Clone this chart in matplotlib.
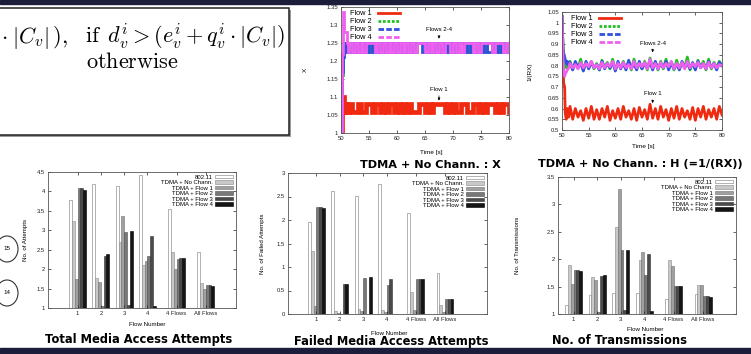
import numpy as np
import matplotlib
matplotlib.use("Agg")
import matplotlib.pyplot as plt
from matplotlib.lines import Line2D
from matplotlib.patches import Rectangle, Ellipse
from matplotlib.ticker import FuncFormatter

plt.rcParams['font.family'] = ['Liberation Sans', 'DejaVu Sans']
plt.rcParams['mathtext.fontset'] = 'cm'

# ---------------- data: time series ----------------
t_early_x = [50.0, 50.1, 50.2, 50.3, 50.4, 50.5, 50.7, 50.9, 51.1, 51.3]
t_early_h = [50.0, 50.1, 50.2, 50.3, 50.4, 50.5, 50.6, 50.8, 51.0, 51.25]
t_regular = np.arange(51.5, 80.01, 0.5)

x_flow1 = [1.00, 1.03, 1.07, 1.10, 1.10, 1.08, 1.057, 1.08, 1.057, 1.057,
           1.08, 1.057, 1.057, 1.08, 1.057, 1.057, 1.08, 1.08, 1.057, 1.08,
           1.08, 1.057, 1.08, 1.057, 1.08, 1.08, 1.057, 1.08, 1.057, 1.08,
           1.057, 1.08, 1.057, 1.057, 1.057, 1.08, 1.08, 1.057, 1.08, 1.057,
           1.08, 1.08, 1.08, 1.08, 1.057, 1.08, 1.057, 1.08, 1.057, 1.057,
           1.08, 1.08, 1.057, 1.057, 1.08, 1.08, 1.057, 1.08, 1.057, 1.08,
           1.08, 1.08, 1.057, 1.08, 1.057, 1.08, 1.08, 1.057]
x_flow2 = [1.00, 1.08, 1.16, 1.20, 1.22, 1.24, 1.25, 1.225, 1.25, 1.225,
           1.25, 1.225, 1.25, 1.225, 1.25, 1.225, 1.25, 1.225, 1.25, 1.225,
           1.25, 1.225, 1.25, 1.225, 1.25, 1.225, 1.25, 1.225, 1.25, 1.225,
           1.25, 1.225, 1.25, 1.225, 1.25, 1.25, 1.25, 1.225, 1.25, 1.225,
           1.25, 1.225, 1.25, 1.225, 1.25, 1.225, 1.25, 1.225, 1.25, 1.225,
           1.225, 1.25, 1.225, 1.25, 1.225, 1.25, 1.225, 1.25, 1.225, 1.25,
           1.25, 1.225, 1.25, 1.225, 1.25, 1.225, 1.25, 1.225]
x_flow3 = [1.00, 1.10, 1.17, 1.17, 1.21, 1.24, 1.25, 1.225, 1.25, 1.225,
           1.225, 1.25, 1.225, 1.25, 1.225, 1.25, 1.225, 1.25, 1.225, 1.25,
           1.225, 1.25, 1.225, 1.25, 1.225, 1.25, 1.225, 1.25, 1.225, 1.25,
           1.225, 1.25, 1.225, 1.25, 1.25, 1.25, 1.225, 1.25, 1.225, 1.25,
           1.225, 1.25, 1.225, 1.25, 1.225, 1.25, 1.225, 1.25, 1.225, 1.25,
           1.25, 1.225, 1.25, 1.225, 1.25, 1.225, 1.25, 1.225, 1.25, 1.225,
           1.225, 1.25, 1.225, 1.25, 1.225, 1.25, 1.225, 1.25]
x_flow4 = [1.00, 1.12, 1.22, 1.30, 1.335, 1.28, 1.28, 1.28, 1.25, 1.225,
           1.25, 1.225, 1.25, 1.225, 1.25, 1.225, 1.25, 1.25, 1.25, 1.225,
           1.25, 1.225, 1.25, 1.225, 1.25, 1.225, 1.25, 1.225, 1.25, 1.225,
           1.25, 1.225, 1.25, 1.225, 1.25, 1.25, 1.25, 1.225, 1.25, 1.225,
           1.25, 1.225, 1.25, 1.225, 1.25, 1.25, 1.225, 1.25, 1.225, 1.25,
           1.225, 1.25, 1.25, 1.25, 1.225, 1.25, 1.225, 1.25, 1.25, 1.25,
           1.25, 1.225, 1.25, 1.25, 1.25, 1.225, 1.25, 1.225]

h_flow1 = [1.03, 0.95, 0.85, 0.72, 0.71, 0.70, 0.58, 0.55, 0.60, 0.56,
           0.61, 0.55, 0.60, 0.56, 0.59, 0.545, 0.60, 0.555, 0.61, 0.55,
           0.595, 0.55, 0.60, 0.56, 0.61, 0.545, 0.59, 0.555, 0.60, 0.55,
           0.61, 0.56, 0.59, 0.55, 0.60, 0.545, 0.605, 0.56, 0.595, 0.55,
           0.62, 0.555, 0.60, 0.55, 0.61, 0.56, 0.595, 0.545, 0.60, 0.555,
           0.61, 0.55, 0.60, 0.56, 0.59, 0.55, 0.605, 0.545, 0.60, 0.56,
           0.61, 0.55, 0.595, 0.56, 0.60, 0.55, 0.61, 0.57]
h_flow2 = [1.03, 0.95, 0.87, 0.84, 0.82, 0.80, 0.81, 0.79, 0.80, 0.81,
           0.82, 0.785, 0.81, 0.79, 0.83, 0.78, 0.815, 0.79, 0.82, 0.785,
           0.81, 0.78, 0.825, 0.79, 0.815, 0.785, 0.83, 0.78, 0.81, 0.79,
           0.82, 0.785, 0.815, 0.78, 0.83, 0.79, 0.81, 0.785, 0.82, 0.78,
           0.835, 0.79, 0.815, 0.78, 0.82, 0.785, 0.83, 0.79, 0.81, 0.78,
           0.825, 0.785, 0.815, 0.79, 0.84, 0.78, 0.81, 0.785, 0.825, 0.79,
           0.82, 0.78, 0.83, 0.785, 0.815, 0.79, 0.82, 0.80]
h_flow3 = [1.03, 0.96, 0.88, 0.86, 0.85, 0.84, 0.83, 0.81, 0.82, 0.80,
           0.815, 0.78, 0.82, 0.79, 0.81, 0.775, 0.82, 0.785, 0.815, 0.79,
           0.805, 0.78, 0.82, 0.785, 0.81, 0.79, 0.815, 0.775, 0.82, 0.785,
           0.81, 0.78, 0.825, 0.79, 0.805, 0.78, 0.82, 0.785, 0.81, 0.79,
           0.815, 0.78, 0.82, 0.785, 0.81, 0.79, 0.82, 0.78, 0.815, 0.785,
           0.805, 0.78, 0.82, 0.79, 0.81, 0.785, 0.815, 0.78, 0.82, 0.79,
           0.81, 0.785, 0.82, 0.79, 0.81, 0.78, 0.815, 0.80]
h_flow4 = [1.03, 0.93, 0.82, 0.78, 0.76, 0.75, 0.76, 0.77, 0.78, 0.79,
           0.81, 0.79, 0.805, 0.785, 0.815, 0.79, 0.81, 0.795, 0.82, 0.79,
           0.805, 0.785, 0.815, 0.79, 0.81, 0.795, 0.82, 0.785, 0.81, 0.79,
           0.815, 0.79, 0.805, 0.785, 0.82, 0.79, 0.81, 0.795, 0.815, 0.785,
           0.83, 0.79, 0.81, 0.785, 0.815, 0.79, 0.81, 0.795, 0.82, 0.785,
           0.81, 0.79, 0.815, 0.785, 0.82, 0.79, 0.81, 0.795, 0.815, 0.79,
           0.81, 0.785, 0.815, 0.79, 0.81, 0.79, 0.805, 0.80]

flow_labels = ["Flow 1", "Flow 2", "Flow 3", "Flow 4"]

# ---------------- data: bar charts ----------------
categories = ["1", "2", "3", "4", "4 Flows", "All Flows"]
series_names = ["802.11", "TDMA + No Chann.", "TDMA + Flow 1",
                "TDMA + Flow 2", "TDMA + Flow 3", "TDMA + Flow 4"]

attempts_80211 = [3.77, 4.20, 4.15, 4.43, 3.55, 2.43]
attempts_nochan = [3.23, 1.76, 2.71, 2.10, 2.45, 1.65]
attempts_f1 = [1.75, 1.66, 3.36, 2.20, 2.00, 1.50]
attempts_f2 = [4.08, 1.05, 2.96, 2.33, 2.27, 1.58]
attempts_f3 = [4.10, 2.35, 1.09, 2.86, 2.28, 1.58]
attempts_f4 = [4.04, 2.38, 2.97, 1.06, 2.28, 1.56]

failed_80211 = [1.95, 2.62, 2.52, 2.77, 2.15, 0.88]
failed_nochan = [1.33, 0.07, 0.11, 0.09, 0.47, 0.20]
failed_f1 = [0.16, 0.03, 0.07, 0.05, 0.09, 0.05]
failed_f2 = [2.27, 0.00, 0.77, 0.62, 0.74, 0.32]
failed_f3 = [2.28, 0.64, 0.00, 0.75, 0.75, 0.32]
failed_f4 = [2.25, 0.64, 0.78, 0.01, 0.75, 0.32]

tx_80211 = [1.16, 1.35, 1.39, 1.39, 1.27, 1.37]
tx_nochan = [1.89, 1.68, 2.59, 1.99, 1.98, 1.53]
tx_f1 = [1.55, 1.62, 3.28, 2.14, 1.88, 1.53]
tx_f2 = [1.80, 1.04, 2.17, 1.71, 1.52, 1.33]
tx_f3 = [1.81, 1.70, 1.07, 2.09, 1.52, 1.33]
tx_f4 = [1.78, 1.72, 2.17, 1.06, 1.52, 1.31]

# ---------------- figure ----------------
W, H = 751, 354
fig = plt.figure(figsize=(W / 100, H / 100), dpi=100)
fig.patch.set_facecolor('white')

bg = fig.add_axes([0, 0, 1, 1])
bg.set_xlim(0, W)
bg.set_ylim(H, 0)
bg.axis('off')

NAVY = '#1b1d3a'
bg.add_patch(Rectangle((0, 0), W, 4, color=NAVY))
bg.add_patch(Rectangle((0, 348), W, 6, color=NAVY))

# equation box
bg.add_patch(Rectangle((-6, 9.5), 297, 127, facecolor='#9a9a9a', edgecolor='none'))
bg.add_patch(Rectangle((-6, 7.5), 295, 127, facecolor='white', edgecolor='#222222', lw=1.1))
bg.text(1, 43, r'$\cdot\;|C_v|\,),$', fontsize=16, va='baseline', ha='left')
bg.text(85, 43, r'$\mathrm{if}\ \,d_v^i > (e_v^i + q_v^i \cdot |C_v|)$',
        fontsize=16, va='baseline', ha='left')
bg.text(86, 68, r'$\mathrm{otherwise}$', fontsize=16, va='baseline', ha='left')

# slide number circles
for cy, lab in [(249, "15"), (293, "14")]:
    bg.add_patch(Ellipse((7, cy), 22, 26, fill=False, edgecolor='#333333', lw=0.8))
    bg.text(7, cy, lab, fontsize=4.5, ha='center', va='center')

# captions
cap_kw = dict(family='DejaVu Sans', weight='bold', ha='center', va='center', color='black')
bg.text(430, 165, "TDMA + No Chann. : X", fontsize=8.1, **cap_kw)
bg.text(640, 164, "TDMA + No Chann. : H (=1/(RX))", fontsize=8.1, **cap_kw)
bg.text(139, 340, "Total Media Access Attempts", fontsize=8.3, **cap_kw)
bg.text(391, 341, "Failed Media Access Attempts", fontsize=8.3, **cap_kw)
bg.text(620, 341, "No. of Transmissions", fontsize=8.3, **cap_kw)


def px_axes(l, t, r, b):
    return fig.add_axes([l / W, 1 - b / H, (r - l) / W, (b - t) / H])


def style(ax, ls=4.3):
    ax.tick_params(direction='in', length=2.5, width=0.5, labelsize=ls, pad=2,
                   top=True, right=True, colors='#222222')
    for s in ax.spines.values():
        s.set_color('#555555')
        s.set_linewidth(0.6)
    ax.yaxis.set_major_formatter(FuncFormatter(lambda v, p: '%g' % round(v, 3)))


COLORS = ['#f02a10', '#22c022', '#3050e0', '#f060f0']
DASHES = ['-', (0, (1, 0.6)), (0, (2, 0.8)), (0, (2, 0.8))]


def line_legend(ax):
    handles = [Line2D([], [], color=c, lw=2, linestyle=d) for c, d in zip(COLORS, DASHES)]
    ax.legend(handles, flow_labels, loc='upper left', bbox_to_anchor=(0.035, 1.0),
              frameon=False, markerfirst=False,
              fontsize=5.3, handlelength=3.0, handletextpad=0.9, labelspacing=0.12,
              borderaxespad=0.2, borderpad=0.2)


# ---- chart X ----
axX = px_axes(341, 7, 509, 133)
tx = list(t_early_x) + list(t_regular)
for vals, c, lw in zip([x_flow1, x_flow2, x_flow3, x_flow4], COLORS, [3.4, 2, 2, 2]):
    axX.plot(tx, vals, color=c, lw=lw, drawstyle='steps-post', solid_joinstyle='miter')
axX.set_xlim(50, 80)
axX.set_ylim(1.0, 1.35)
axX.set_xticks([50, 55, 60, 65, 70, 75, 80])
axX.set_yticks([1.0, 1.05, 1.1, 1.15, 1.2, 1.25, 1.3, 1.35])
style(axX)
line_legend(axX)
arr = dict(arrowstyle='-|>', lw=0.5, color='black', mutation_scale=3.5, shrinkA=0.5, shrinkB=0)
axX.annotate("Flows 2-4", xy=(67.5, 1.262), xytext=(67.5, 1.288), fontsize=4.3,
             ha='center', va='center', arrowprops=arr)
axX.annotate("Flow 1", xy=(67.5, 1.09), xytext=(67.5, 1.12), fontsize=4.3,
             ha='center', va='center', arrowprops=arr)
axX.text(0.54, -0.151, "Time [s]", transform=axX.transAxes, fontsize=4.6, ha='center', va='center')
axX.text(-0.214, 0.5, "X", transform=axX.transAxes, fontsize=4.6, ha='center', va='center',
         rotation=90)

# ---- chart H ----
axH = px_axes(562, 12, 722, 130)
th = list(t_early_h) + list(t_regular)
for vals, c in zip([h_flow1, h_flow2, h_flow3, h_flow4], COLORS):
    axH.plot(th, vals, color=c, lw=2.0)
axH.set_xlim(50, 80)
axH.set_ylim(0.5, 1.05)
axH.set_xticks([50, 55, 60, 65, 70, 75, 80])
axH.set_yticks([0.5, 0.55, 0.6, 0.65, 0.7, 0.75, 0.8, 0.85, 0.9, 0.95, 1.0, 1.05])
style(axH)
line_legend(axH)
axH.annotate("Flows 2-4", xy=(67, 0.862), xytext=(67, 0.905), fontsize=4.3,
             ha='center', va='center', arrowprops=arr)
axH.annotate("Flow 1", xy=(67, 0.625), xytext=(67, 0.668), fontsize=4.3,
             ha='center', va='center', arrowprops=arr)
axH.text(0.506, -0.136, "Time [s]", transform=axH.transAxes, fontsize=4.6, ha='center', va='center')
axH.text(-0.2, 0.49, "1/(RX)", transform=axH.transAxes, fontsize=4.6, ha='center', va='center',
         rotation=90)

# ---- bar charts ----
BAR_FACES = ['#ffffff', '#c8c8c8', '#a0a0a0', '#787878', '#4a4a4a', '#151515']
BAR_EDGES = ['#777777', '#888888', '#707070', '#505050', '#303030', '#000000']
group_pos = np.array([1, 2, 3, 4, 5.25, 6.5])
bar_w = 0.12


def bar_chart(ax, series, base, top, yticks, xlim, ylabel, xlab_xy, ylab_x):
    for i, (vals, fc, ec, name) in enumerate(zip(series, BAR_FACES, BAR_EDGES, series_names)):
        v = np.array(vals)
        ax.bar(group_pos + (i - 2.5) * bar_w, v - base, bottom=base, width=bar_w,
               color=fc, edgecolor=ec, linewidth=0.4, label=name)
    ax.set_xlim(*xlim)
    ax.set_ylim(base, top)
    ax.set_yticks(yticks)
    ax.set_xticks(group_pos)
    ax.set_xticklabels(categories)
    style(ax, ls=4.2)
    ax.legend(loc='upper right', frameon=False, markerfirst=False, fontsize=4.3,
              handlelength=3.0, handleheight=0.55, handletextpad=0.5, labelspacing=0.08,
              borderaxespad=0.25, borderpad=0.2)
    ax.text(xlab_xy[0], xlab_xy[1], "Flow Number", transform=ax.transAxes, fontsize=4.4,
            ha='center', va='center')
    ax.text(ylab_x, 0.5, ylabel, transform=ax.transAxes, fontsize=4.4, ha='center',
            va='center', rotation=90)


axA = px_axes(48, 172, 236, 308)
bar_chart(axA, [attempts_80211, attempts_nochan, attempts_f1, attempts_f2, attempts_f3, attempts_f4],
          1.0, 4.5, [1, 1.5, 2, 2.5, 3, 3.5, 4, 4.5], (-0.27, 7.8), "No. of Attempts",
          (0.527, -0.118), -0.122)

axB = px_axes(288, 173, 487, 314)
bar_chart(axB, [failed_80211, failed_nochan, failed_f1, failed_f2, failed_f3, failed_f4],
          0.0, 3.0, [0, 0.5, 1, 1.5, 2, 2.5, 3], (-0.22, 8.3), "No. of Failed Attempts",
          (0.51, -0.135), -0.13)

axC = px_axes(558, 177, 736, 314)
bar_chart(axC, [tx_80211, tx_nochan, tx_f1, tx_f2, tx_f3, tx_f4],
          1.0, 3.5, [1, 1.5, 2, 2.5, 3, 3.5], (0.34, 7.9), "No. of Transmissions",
          (0.49, -0.11), -0.225)

fig.savefig("out.png", dpi=100, facecolor='white')
